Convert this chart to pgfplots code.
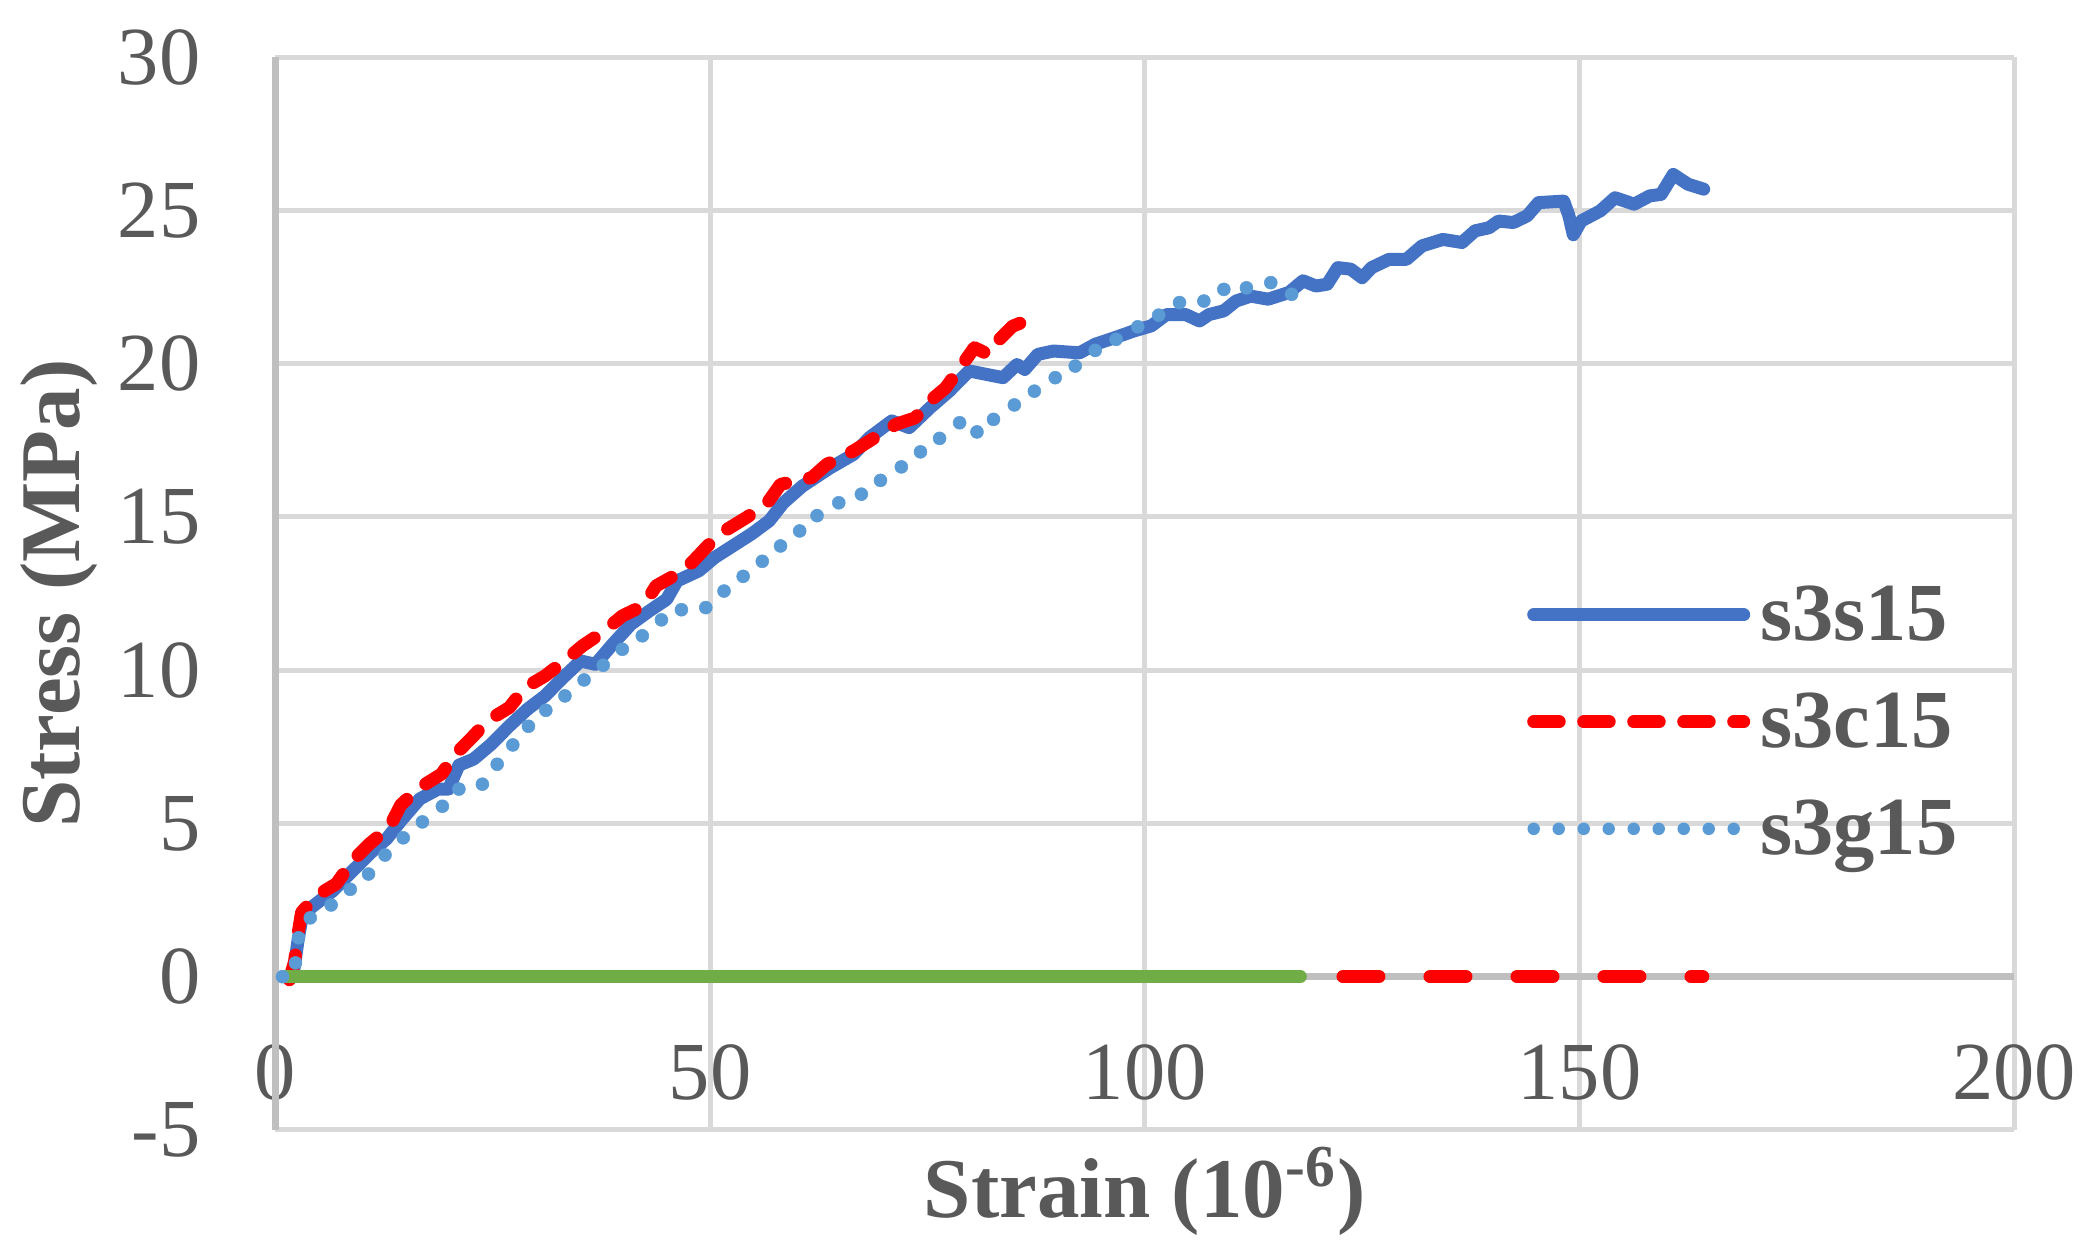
\documentclass[border=0pt]{standalone}
\usepackage{fontspec}
\setmainfont{Liberation Serif}
\usepackage{pgfplots}
\pgfplotsset{compat=1.18}
\definecolor{txt}{HTML}{595959}
\definecolor{gridc}{HTML}{D9D9D9}
\definecolor{axc}{HTML}{BFBFBF}
\definecolor{sA}{HTML}{4472C4}
\definecolor{sC}{HTML}{5B9BD5}
\definecolor{gr}{HTML}{70AD47}
\begin{document}
\begin{tikzpicture}
\begin{axis}[
  name=ax,
  scale only axis, width=347.7pt, height=214.6pt,
  xmin=0, xmax=200, ymin=-5, ymax=30,
  xtick={0,50,100,150,200}, xticklabels={0,50,100,150,200},
  ytick={-5,0,5,10,15,20,25,30}, yticklabels={-5,0,5,10,15,20,25,30},
  extra x ticks={0}, extra x tick labels={}, extra x tick style={grid style={axc,line width=1.4pt}},
  extra y ticks={0}, extra y tick labels={}, extra y tick style={grid style={axc,line width=1.4pt}},
  grid=major, grid style={gridc, line width=1pt},
  axis line style={draw=none},
  major tick length=0pt,
  tick label style={font=\fontsize{16.5}{16.5}\selectfont, text=txt, inner sep=0pt},
  xticklabel style={anchor=center, yshift=11.5pt},
  yticklabel style={anchor=east, xshift=-14.8pt},
  xlabel={Strain (10\textsuperscript{-6})}, ylabel={Stress (MPa)},
  every axis x label/.style={at={(axis description cs:0.5,0)}, anchor=base, yshift=-17.6pt,
    font=\fontsize{17}{17}\selectfont\bfseries, text=txt},
  every axis y label/.style={at={([xshift=-39.1pt]axis description cs:0,0.5)}, rotate=90, anchor=base,
    font=\fontsize{17}{17}\selectfont\bfseries, text=txt},
  legend image code/.code={\draw[#1] (0pt,5.2pt) -- (42pt,5.2pt);},
  legend style={draw=none, fill=none, inner sep=0pt, outer sep=0pt,
    at={(axis cs:144.0,12.75)}, anchor=north west, row sep=7.4pt,
    font=\fontsize{16.5}{16.5}\selectfont\bfseries, text=txt,
    nodes={inner sep=0pt, text height=11pt, text depth=3pt, anchor=base west},
    /tikz/every odd column/.style={column sep=2pt}},
]
\addplot[sA, line width=2.6pt, line cap=round, line join=round] coordinates {
(2.0,0.05) (2.2,0.4) (2.6,1.2) (3.1,2.0) (4.3,2.3) (6.6,2.8) (8.5,3.35) (11.2,4.11)
(12.8,4.5) (14.4,5.08) (16.6,5.8) (18.7,6.12) (19.9,6.12) (21.1,6.9) (22.8,7.1)
(24.8,7.58) (26.9,8.18) (29.0,8.73) (31.0,9.16) (33.1,9.76) (35.1,10.3) (36.8,10.19)
(38.8,10.85) (40.9,11.5) (43.0,11.93) (45.0,12.31) (46.2,12.91) (48.7,13.24)
(50.5,13.67) (52.6,14.05) (54.8,14.45) (56.8,14.87) (58.4,15.45) (60.6,16.0)
(63.7,16.58) (66.5,17.04) (68.3,17.58) (70.9,18.13) (72.9,17.91) (75.3,18.56)
(77.5,19.1) (79.8,19.76) (83.7,19.54) (85.3,19.97) (86.2,19.81) (87.7,20.3)
(89.5,20.41) (92.5,20.35) (94.3,20.63) (96.5,20.84) (98.7,21.06) (100.75,21.23)
(102.5,21.6) (104.7,21.6) (106.3,21.39) (107.4,21.6) (109.1,21.72) (110.5,22.04)
(112.2,22.2) (114.2,22.1) (116.6,22.32) (118.2,22.7) (119.7,22.53) (121.0,22.59)
(122.2,23.13) (123.7,23.08) (125.0,22.8) (126.1,23.13) (128.1,23.4) (130.1,23.4)
(131.9,23.84) (134.3,24.05) (136.5,23.95) (138.0,24.33) (139.6,24.43) (140.7,24.65)
(142.4,24.6) (144.0,24.82) (145.3,25.25) (148.2,25.3) (148.8,24.82) (149.3,24.2)
(150.2,24.65) (152.4,24.98) (154.1,25.41) (156.3,25.2) (158.1,25.47) (159.4,25.52)
(160.8,26.17) (162.5,25.85) (164.3,25.69)
};
\addlegendentry{s3s15}
\addplot[red, line width=2.6pt, line cap=round, line join=round, dash pattern=on 5.1pt off 4.9pt] coordinates {
(1.6,-0.1) (2.2,0.5) (2.6,1.4) (3.0,2.1) (4.7,2.64) (7.0,3.03) (8.9,3.79) (10.8,4.33)
(13.1,4.87) (14.4,5.6) (16.6,6.17) (19.1,6.61) (20.7,7.26) (22.6,7.8) (24.4,8.35)
(26.9,8.78) (28.7,9.43) (31.0,9.81) (33.5,10.36) (35.3,10.79) (37.6,11.23) (39.9,11.77)
(42.3,12.1) (43.8,12.75) (45.8,13.07) (47.9,13.51) (50.2,14.2) (52.0,14.6) (54.3,15.0)
(56.6,15.46) (58.1,16.06) (61.7,16.28) (63.4,16.71) (66.5,17.15) (68.3,17.47)
(71.4,18.02) (73.6,18.23) (75.3,18.78) (77.1,19.21) (78.9,19.92) (80.4,20.52)
(82.0,20.3) (83.1,20.74) (84.8,21.22) (87.7,21.55)
};
\addlegendentry{s3c15}
\addplot[sC, only marks, mark=*, mark size=1.3pt, mark options={solid, fill=sC, draw=sC, line width=0.1pt},
  legend image code/.code={\draw[sC, line width=2.5pt, line cap=round, dash pattern=on 0pt off 5pt] (0pt,5.2pt) -- (40.1pt,5.2pt);}]
  coordinates {
(0.8,0.0) (2.3,0.45) (2.65,1.27) (4.0,1.92) (6.4,2.34) (8.6,2.85) (10.7,3.35) (12.6,3.97)
(14.7,4.53) (16.9,5.05) (19.2,5.56) (21.1,6.12) (23.8,6.28) (25.5,6.93) (27.3,7.56)
(29.1,8.17) (31.1,8.69) (33.3,9.16) (35.5,9.68) (37.7,10.16) (39.9,10.68) (42.2,11.12)
(44.4,11.64) (46.7,11.97) (49.5,12.04) (51.6,12.58) (53.8,13.06) (56.0,13.55) (58.1,14.05)
(60.3,14.54) (62.3,15.04) (64.8,15.46) (67.4,15.74) (69.6,16.19) (72.0,16.63) (74.2,17.12)
(76.4,17.56) (78.7,18.07) (80.7,17.77) (82.6,18.18) (85.0,18.65) (87.3,19.1) (89.7,19.54)
(92.0,19.92) (94.3,20.43) (96.7,20.79) (99.2,21.2) (101.6,21.58) (104.0,21.99) (106.8,22.04)
(109.1,22.42) (111.7,22.47) (114.5,22.64) (116.9,22.26)
};
\addlegendentry{s3g15}
\addplot[red, line width=2.6pt, line cap=round, dash pattern=on 7.2pt off 10.2pt, forget plot] coordinates {(2.7,0) (164.2,0)};
\addplot[gr, line width=2.6pt, line cap=round, forget plot] coordinates {(1.15,0) (117.9,0)};
\coordinate (ll) at (rel axis cs:0,0);
\end{axis}
\pgfresetboundingbox
\path[use as bounding box] ([shift={(-55.1pt,-25.6pt)}]ll) rectangle ([shift={(363.1pt,226pt)}]ll);
\end{tikzpicture}
\end{document}
